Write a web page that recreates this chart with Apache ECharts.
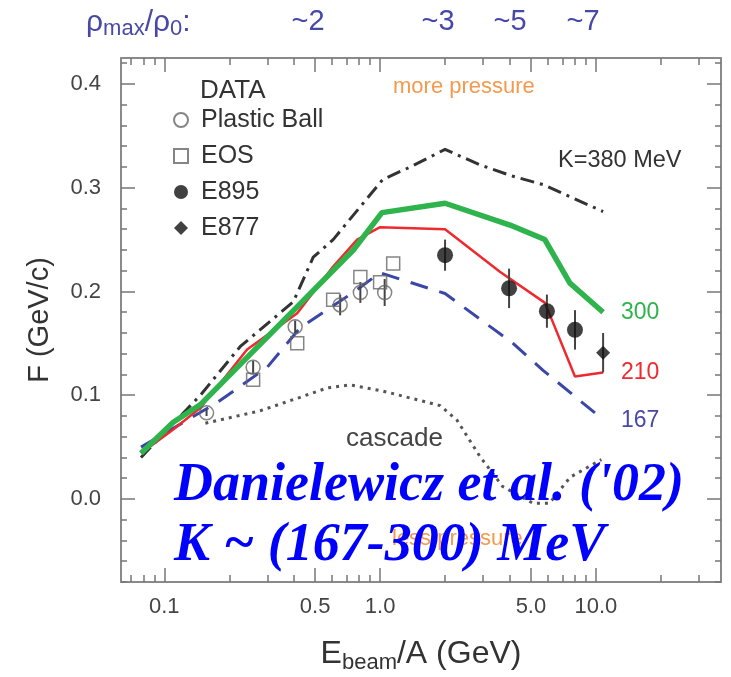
<!DOCTYPE html>
<html><head><meta charset="utf-8">
<script src="https://cdn.jsdelivr.net/npm/echarts@6/dist/echarts.min.js"></script>
<style>html,body{margin:0;padding:0;background:#fff}#c{width:731px;height:677px}</style>
</head><body><div id="c"></div>
<script>
// ---- axis ranges & ticks ----
const xMin = 0.063, xMax = 38;
const yMin = -0.08, yMax = 0.425;
const xMinorTicks = [0.07,0.08,0.09,0.1,0.2,0.3,0.4,0.5,0.6,0.7,0.8,0.9,1,2,3,4,5,6,7,8,9,10,20,30];
const xMajorTicks = [0.1,0.5,1,5,10];
const xLabelTicks = [0.1,0.5,1,5,10];
const yMinorTicks = [-0.08,-0.06,-0.04,-0.02,0,0.02,0.04,0.06,0.08,0.1,0.12,0.14,0.16,0.18,0.2,0.22,0.24,0.26,0.28,0.3,0.32,0.34,0.36,0.38,0.4,0.42];
const yMajorTicks = [0,0.1,0.2,0.3,0.4];

// ---- model curves (E beam/A in GeV, F in GeV/c) ----
const k380E = [0.078,0.096,0.147,0.225,0.396,0.49,0.606,1.03,1.38,2.0,2.9,4.13,5.69,10.8];
const k380F = [0.040,0.060,0.100,0.147,0.190,0.233,0.250,0.308,0.320,0.337,0.322,0.311,0.303,0.277];
const k300E = [0.078,0.110,0.147,0.752,1.02,2.0,4.0,5.8,7.58,10.8];
const k300F = [0.044,0.074,0.091,0.240,0.276,0.285,0.264,0.250,0.208,0.180];
const k210E = [0.078,0.110,0.147,0.176,0.242,0.413,0.606,0.783,1.0,2.0,3.59,5.81,8.0,10.8];
const k210F = [0.044,0.067,0.088,0.108,0.144,0.179,0.224,0.250,0.262,0.260,0.219,0.189,0.118,0.122];
const k167E = [0.078,0.176,0.30,0.426,0.75,1.0,2.0,4.13,5.69,9.9];
const k167F = [0.050,0.093,0.127,0.165,0.199,0.218,0.198,0.150,0.124,0.083];
const cascE = [0.155,0.278,0.426,0.568,0.726,1.03,1.9,2.27,2.9,3.7,5.1,6.1,7.6,10.6];
const cascF = [0.073,0.085,0.098,0.107,0.110,0.104,0.090,0.076,0.041,0.012,-0.004,-0.004,0.021,0.038];

// ---- data ----
const pbE = [0.157,0.258,0.404,0.653,0.81,1.05];
const pbF = [0.083,0.127,0.166,0.187,0.199,0.199];
const pbErr = [0.003,0.006,0.006,0.010,0.010,0.013];
const eosE = [0.258,0.413,0.606,0.81,1.0,1.15];
const eosF = [0.115,0.150,0.192,0.214,0.209,0.227];
const e895E = [2.0,3.96,5.93,8.0];
const e895F = [0.235,0.203,0.181,0.163];
const e895Err = [0.015,0.019,0.016,0.019];
const e877E = [10.8];
const e877F = [0.141];
const e877Err = [0.019];

const pts = (E,F) => E.map((e,i)=>[e,F[i]]);
const bars = (E,F,R) => E.map((e,i)=>[e,F[i]-R[i],F[i]+R[i]]);
const lx = v => Math.log10(v);

const FONT = 'Liberation Sans';
const frameLine = {show:true,onZero:false,lineStyle:{color:'#8a8a8a',width:2}};
const tickStyle = {color:'#777',width:1.5};
const xv = {type:'value',min:lx(xMin),max:lx(xMax),splitLine:{show:false},gridIndex:0};
const yv = {type:'value',min:yMin,max:yMax,splitLine:{show:false},gridIndex:0};
const RHO = '#4848a8';

function lineSeries(name,E,F,style,z){
  return {name,type:'line',data:pts(E,F),symbol:'none',showSymbol:false,silent:true,z,
    lineStyle:style,xAxisIndex:0,yAxisIndex:0};
}
function errSeries(E,F,R){
  return {type:'custom',xAxisIndex:0,yAxisIndex:0,silent:true,z:5,data:bars(E,F,R),
    renderItem:(p,api)=>{const a=api.coord([api.value(0),api.value(1)]);const b=api.coord([api.value(0),api.value(2)]);
      return {type:'line',shape:{x1:a[0],y1:a[1],x2:b[0],y2:b[1]},style:{stroke:'#444',lineWidth:2}};}};
}
function label(x,y,text,fill,size,extra){
  return {type:'text',x,y,z:10,style:Object.assign({text,fill,fontSize:size,fontFamily:FONT,verticalAlign:'middle'},extra||{})};
}

const chart = echarts.init(document.getElementById('c'),null,{renderer:'canvas'});
chart.setOption({
  animation:false,
  backgroundColor:'#fff',
  grid:{left:121,right:10,top:58,bottom:95,containLabel:false,outerBoundsMode:'none'},
  xAxis:[
    {type:'log',logBase:10,min:xMin,max:xMax,show:false,gridIndex:0},
    {...xv,position:'bottom',axisLine:frameLine,
      axisTick:{show:true,inside:true,length:7,customValues:xMinorTicks.map(lx),lineStyle:tickStyle},
      axisLabel:{show:true,customValues:xLabelTicks.map(lx),formatter:v=>Math.pow(10,v).toFixed(1),
        margin:14,fontSize:22,color:'#444',fontFamily:FONT},
      name:'{a|E}{b|beam}{a|/A (GeV)}',nameLocation:'middle',nameGap:52,nameMoveOverlap:false,
      nameTextStyle:{color:'#333',fontFamily:FONT,rich:{a:{fontSize:32,fontFamily:FONT,color:'#333',lineHeight:40},
        b:{fontSize:22,fontFamily:FONT,color:'#333',verticalAlign:'bottom',lineHeight:40}}}},
    {...xv,position:'bottom',axisLine:{show:false,onZero:false},
      axisTick:{show:true,inside:true,length:14,customValues:xMajorTicks.map(lx),lineStyle:tickStyle},axisLabel:{show:false}},
    {...xv,position:'top',axisLine:frameLine,
      axisTick:{show:true,inside:true,length:7,customValues:xMinorTicks.map(lx),lineStyle:tickStyle},axisLabel:{show:false}},
    {...xv,position:'top',axisLine:{show:false,onZero:false},
      axisTick:{show:true,inside:true,length:14,customValues:xMajorTicks.map(lx),lineStyle:tickStyle},axisLabel:{show:false}}
  ],
  yAxis:[
    {...yv,position:'left',axisLine:frameLine,
      axisTick:{show:true,inside:true,length:6,customValues:yMinorTicks,lineStyle:tickStyle},
      axisLabel:{show:true,customValues:yMajorTicks,formatter:v=>v.toFixed(1),margin:20,fontSize:22,color:'#444',fontFamily:FONT},
      name:'F (GeV/c)',nameLocation:'middle',nameGap:67,nameRotate:90,nameMoveOverlap:false,
      nameTextStyle:{fontSize:29,color:'#333',fontFamily:FONT}},
    {...yv,position:'left',axisLine:{show:false,onZero:false},
      axisTick:{show:true,inside:true,length:14,customValues:yMajorTicks,lineStyle:tickStyle},axisLabel:{show:false}},
    {...yv,position:'right',axisLine:frameLine,
      axisTick:{show:true,inside:true,length:6,customValues:yMinorTicks,lineStyle:tickStyle},axisLabel:{show:false}},
    {...yv,position:'right',axisLine:{show:false,onZero:false},
      axisTick:{show:true,inside:true,length:14,customValues:yMajorTicks,lineStyle:tickStyle},axisLabel:{show:false}}
  ],
  legend:{data:['Plastic Ball','EOS','E895','E877'],orient:'vertical',left:168,top:102,
    itemWidth:14,itemHeight:14,itemGap:10,selectedMode:false,
    textStyle:{fontSize:25,color:'#333',fontFamily:FONT,lineHeight:26,padding:[0,0,0,8]}},
  series:[
    lineSeries('cascade',cascE,cascF,{color:'#555',width:3,type:[3,5]},3),
    lineSeries('K=380',k380E,k380F,{color:'#333',width:3,type:[14,6,3,6]},3),
    lineSeries('K=167',k167E,k167F,{color:'#3a46a8',width:3,type:[18,12]},3),
    lineSeries('K=210',k210E,k210F,{color:'#ee2a2e',width:2.5},4),
    lineSeries('K=300',k300E,k300F,{color:'#2fb34c',width:5.5},4),
    errSeries(pbE,pbF,pbErr),
    errSeries(e895E,e895F,e895Err),
    errSeries(e877E,e877F,e877Err),
    {name:'Plastic Ball',type:'scatter',data:pts(pbE,pbF),symbol:'circle',symbolSize:14,z:6,
      itemStyle:{color:'rgba(255,255,255,0)',borderColor:'#666',borderWidth:1.5}},
    {name:'EOS',type:'scatter',data:pts(eosE,eosF),symbol:'rect',symbolSize:13,z:6,
      itemStyle:{color:'rgba(255,255,255,0)',borderColor:'#666',borderWidth:1.5}},
    {name:'E895',type:'scatter',data:pts(e895E,e895F),symbol:'circle',symbolSize:16,z:6,itemStyle:{color:'#111'}},
    {name:'E877',type:'scatter',data:pts(e877E,e877F),symbol:'diamond',symbolSize:14,z:6,itemStyle:{color:'#111'}}
  ],
  graphic:[
    {type:'text',x:86,y:23,z:10,style:{text:'{r|ρ}{s|max}{r|/ρ}{s|0}{r|:}',verticalAlign:'middle',
      rich:{r:{fontSize:30,fontFamily:FONT,fill:RHO,lineHeight:34},s:{fontSize:22,fontFamily:FONT,fill:RHO,verticalAlign:'bottom',lineHeight:34}}}},
    label(308,22,'~2',RHO,29,{align:'center'}),
    label(438,22,'~3',RHO,29,{align:'center'}),
    label(510,22,'~5',RHO,29,{align:'center'}),
    label(583,22,'~7',RHO,29,{align:'center'}),
    label(200,91,'DATA','#333',26),
    label(393,87,'more pressure','#f39a4f',22),
    label(558,161,'K=380 MeV','#333',23.5),
    label(621,313,'300','#2fb34c',23),
    label(621,373,'210','#ee2a2e',23),
    label(621,421,'167',RHO,23),
    label(346,439,'cascade','#444',26),
    label(392,539,'less pressure','#f39a4f',22),
    {type:'text',x:174,y:486,z:20,style:{text:"Danielewicz et al. ('02)",fill:'#0000ff',fontSize:54,fontWeight:'bold',fontStyle:'italic',fontFamily:'Liberation Serif',verticalAlign:'middle'}},
    {type:'text',x:174,y:546,z:20,style:{text:'K ~ (167-300) MeV',fill:'#0000ff',fontSize:54,fontWeight:'bold',fontStyle:'italic',fontFamily:'Liberation Serif',verticalAlign:'middle'}}
  ]
});
</script></body></html>
